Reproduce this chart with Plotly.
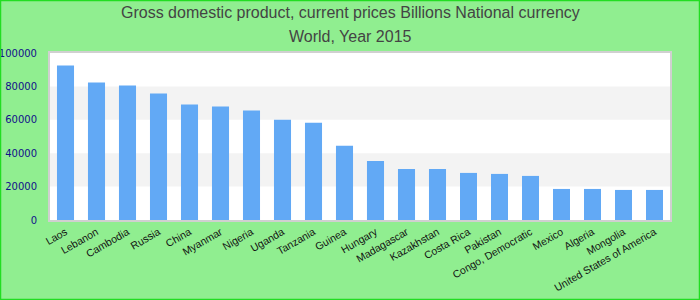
import plotly.graph_objects as go

countries = ["Laos", "Lebanon", "Cambodia", "Russia", "China", "Myanmar", "Nigeria",
             "Uganda", "Tanzania", "Guinea", "Hungary", "Madagascar", "Kazakhstan",
             "Costa Rica", "Pakistan", "Congo, Democratic", "Mexico", "Algeria",
             "Mongolia", "United States of America"]
gdp = [92500, 82300, 80500, 75700, 69100, 67900, 65500, 60100, 58300, 44400,
       35400, 30600, 30600, 28200, 27600, 26400, 18600, 18600, 18000, 18000]
y_ticks = [0, 20000, 40000, 60000, 80000, 100000]
title_lines = ["Gross domestic product, current prices Billions National currency",
               "World, Year 2015"]

W, H = 700, 300
ML, MR, MT, MB = 50, 30, 53, 80

fig = go.Figure(go.Bar(x=countries, y=gdp, marker_color="#62a9f5",
                       marker_line_width=0, width=0.55))

shapes = []
for i in range(len(y_ticks) - 1):
    if i % 2 == 1:
        shapes.append(dict(type="rect", xref="paper", yref="y", x0=0, x1=1,
                           y0=y_ticks[i], y1=y_ticks[i + 1], fillcolor="#f3f3f3",
                           line_width=0, layer="below"))
pw, ph = W - ML - MR, H - MT - MB
shapes.append(dict(type="rect", xref="paper", yref="paper",
                   x0=-ML / pw + 0.5 / pw, x1=1 + (MR - 0.5) / pw,
                   y0=-MB / ph + 0.5 / ph, y1=1 + (MT - 0.5) / ph,
                   line=dict(color="#22dd22", width=1.5), fillcolor="rgba(0,0,0,0)",
                   layer="above"))

annotations = []
for k, line in enumerate(title_lines):
    yc = 13 + 23 * k
    annotations.append(dict(text=line, xref="paper", yref="paper",
                            x=(W / 2 - ML) / pw, y=1 + (MT - yc) / ph,
                            xanchor="center", yanchor="middle", showarrow=False,
                            font=dict(family="Liberation Sans, Arial", size=16,
                                      color="#444444")))

fig.update_layout(
    width=W, height=H,
    margin=dict(l=ML, r=MR, t=MT, b=MB),
    paper_bgcolor="#90ee90", plot_bgcolor="#ffffff",
    font=dict(family="Liberation Sans, Arial"),
    shapes=shapes, annotations=annotations,
    showlegend=False,
    bargap=0.45,
)
fig.update_xaxes(tickangle=-30, tickfont=dict(size=10.5, color="#111111"),
                 showline=True, linecolor="#d0d0d0", linewidth=2, mirror=True,
                 ticks="", automargin=False, showgrid=False)
fig.update_yaxes(range=[0, 100000], tickvals=y_ticks, ticktext=[str(v) for v in y_ticks],
                 tickfont=dict(family="DejaVu Sans", size=10, color="#10108a"),
                 showline=True, linecolor="#d0d0d0", linewidth=2, mirror=True,
                 showgrid=False, zeroline=False, ticks="outside", ticklen=9,
                 tickcolor="rgba(0,0,0,0)", automargin=False)

fig.write_html("out.html")
